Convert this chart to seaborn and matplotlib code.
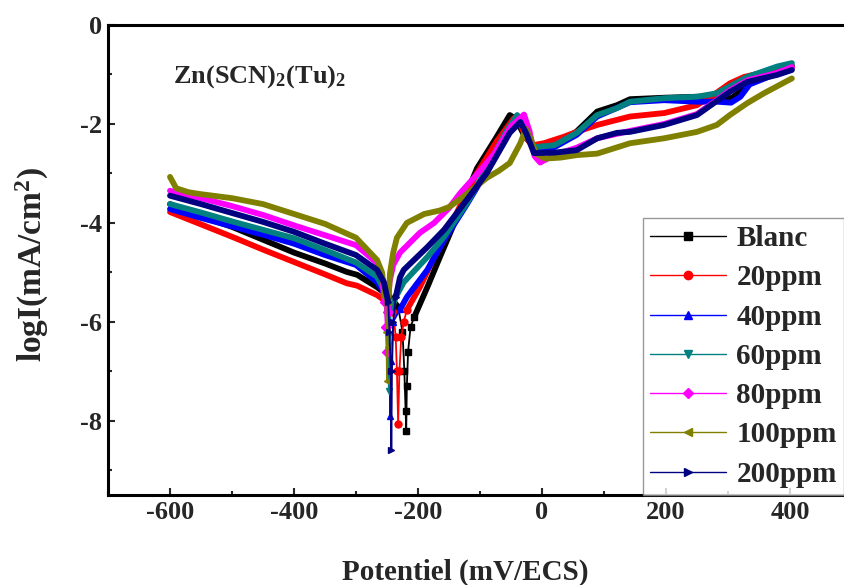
import matplotlib
matplotlib.use("Agg")
import matplotlib.pyplot as plt
from matplotlib.lines import Line2D
from matplotlib.ticker import MultipleLocator
import seaborn as sns
import numpy as np
import pandas as pd

# potential (mV/ECS) and log current density
e_blanc = [-600, -550, -500, -450, -400, -350, -315, -298, -266, -245, -232, -225, -222, -220, -219,
           -218, -216, -212, -206, -185, -165, -148, -128, -105, -75, -52, -42, -30, -13, 20, 56,
           89, 121, 142, 197, 250, 282, 305, 320, 340, 379, 403]
i_blanc = [-3.62, -3.86, -4.08, -4.34, -4.6, -4.82, -4.99, -5.05, -5.3, -5.5, -5.7, -6.2, -7.0, -7.8, -8.2,
           -7.3, -6.6, -6.1, -5.9, -5.3, -4.7, -4.2, -3.6, -2.9, -2.3, -1.82, -1.9, -2.2, -2.47, -2.45, -2.15,
           -1.75, -1.62, -1.5, -1.47, -1.45, -1.45, -1.48, -1.35, -1.1, -0.9, -0.82]

e_20 = [-600, -550, -500, -450, -400, -350, -315, -298, -266, -250, -240, -236, -234, -232, -230,
        -227, -223, -218, -197, -174, -158, -130, -105, -73, -45, -35, -25, -15, 3, 35, 56, 89,
        142, 197, 250, 277, 303, 326, 347, 403]
i_20 = [-3.78, -4.03, -4.28, -4.54, -4.79, -5.04, -5.22, -5.27, -5.46, -5.6, -5.8, -6.3, -7.0, -8.07, -7.0,
        -6.3, -6.0, -5.76, -5.3, -4.69, -4.35, -3.6, -3.0, -2.35, -1.88, -2.0, -2.3, -2.43, -2.39, -2.26,
        -2.16, -2.02, -1.85, -1.78, -1.62, -1.41, -1.18, -1.05, -0.99, -0.85]

e_40 = [-600, -550, -500, -450, -400, -350, -300, -266, -255, -248, -246, -245, -243, -240, -229,
        -218, -185, -158, -121, -89, -60, -38, -28, -18, -10, 20, 56, 89, 142, 197, 250, 282, 305,
        320, 335, 379, 403]
i_40 = [-3.72, -3.9, -4.07, -4.24, -4.42, -4.65, -4.85, -5.2, -5.4, -5.8, -6.6, -7.9, -6.8, -6.0, -5.75,
        -5.5, -4.95, -4.35, -3.62, -2.95, -2.25, -1.88, -2.05, -2.4, -2.5, -2.47, -2.22, -1.85, -1.56,
        -1.52, -1.55, -1.55, -1.57, -1.45, -1.2, -0.98, -0.88]

e_60 = [-600, -550, -500, -450, -400, -350, -300, -266, -255, -250, -248, -247, -246, -244, -236,
        -223, -185, -158, -121, -89, -60, -40, -30, -20, -13, 20, 56, 89, 121, 142, 197, 250, 282,
        331, 379, 403]
i_60 = [-3.62, -3.79, -3.97, -4.14, -4.31, -4.55, -4.8, -5.09, -5.35, -5.7, -6.3, -7.4, -6.5, -5.8, -5.5,
        -5.2, -4.69, -4.28, -3.6, -2.9, -2.2, -1.82, -2.0, -2.35, -2.47, -2.43, -2.18, -1.82, -1.68,
        -1.55, -1.48, -1.45, -1.38, -1.05, -0.84, -0.77]

e_80 = [-600, -550, -500, -450, -400, -350, -300, -266, -258, -254, -252, -250, -249, -246, -240,
        -229, -197, -174, -150, -132, -100, -77, -50, -29, -20, -12, -3, 19, 56, 89, 142, 197, 250,
        277, 303, 331, 379, 403]
i_80 = [-3.35, -3.5, -3.66, -3.84, -4.05, -4.25, -4.45, -4.81, -5.1, -5.6, -6.1, -6.6, -5.8, -5.2, -4.85,
        -4.6, -4.2, -4.0, -3.7, -3.4, -2.95, -2.6, -2.05, -1.81, -2.15, -2.65, -2.78, -2.63, -2.48,
        -2.29, -2.14, -2.0, -1.8, -1.56, -1.32, -1.12, -0.97, -0.85]

e_100 = [-600, -590, -570, -550, -500, -450, -400, -350, -300, -266, -258, -253, -251, -250, -249,
         -248, -245, -240, -234, -218, -190, -165, -150, -130, -105, -89, -70, -52, -35, -26, -18,
         -10, 5, 30, 56, 89, 142, 197, 250, 282, 303, 331, 358, 403]
i_100 = [-3.07, -3.3, -3.38, -3.42, -3.5, -3.62, -3.82, -4.02, -4.3, -4.75, -5.0, -5.5, -6.2, -7.2, -6.5,
         -5.6, -5.0, -4.6, -4.3, -4.0, -3.82, -3.75, -3.68, -3.5, -3.25, -3.09, -2.95, -2.79, -2.39,
         -2.1, -2.3, -2.6, -2.7, -2.68, -2.63, -2.6, -2.39, -2.29, -2.16, -2.02, -1.82, -1.58, -1.38,
         -1.08]

e_200 = [-600, -550, -500, -450, -400, -350, -300, -266, -255, -248, -246, -244, -243, -242, -240,
         -236, -229, -223, -185, -158, -121, -89, -52, -35, -25, -13, 20, 56, 89, 121, 142, 197, 250,
         277, 303, 331, 379, 403]
i_200 = [-3.45, -3.62, -3.8, -3.98, -4.18, -4.42, -4.65, -4.95, -5.2, -5.6, -6.2, -7.0, -8.6, -7.0, -6.0,
         -5.5, -5.1, -4.95, -4.49, -4.14, -3.53, -2.99, -2.18, -1.96, -2.2, -2.59, -2.58, -2.53, -2.29,
         -2.18, -2.16, -2.02, -1.82, -1.58, -1.35, -1.15, -1.01, -0.91]

labels = ["Blanc", "20ppm", "40ppm", "60ppm", "80ppm", "100ppm", "200ppm"]
potentials = [e_blanc, e_20, e_40, e_60, e_80, e_100, e_200]
currents = [i_blanc, i_20, i_40, i_60, i_80, i_100, i_200]
colors = ["#000000", "#ff0000", "#0000ff", "#008080", "#ff00ff", "#808000", "#000080"]
markers = ["s", "o", "^", "v", "D", "<", ">"]

sns.set_theme(style="white")
plt.rcParams["font.family"] = ["Liberation Serif", "DejaVu Serif"]
plt.rcParams["font.weight"] = "bold"
plt.rcParams["axes.unicode_minus"] = False
plt.rcParams["mathtext.fontset"] = "custom"
for k in ("rm", "it", "bf", "sf"):
    plt.rcParams["mathtext." + k] = "Liberation Serif:bold"

CUT = -5.95  # below this the scan near Ecorr is drawn thin with markers

fig = plt.figure(figsize=(8.45, 5.85), dpi=100)
ax = fig.add_axes([108 / 845, 1 - 495 / 585, 744 / 845, 470 / 585])

for e, i, c, m in zip(potentials, currents, colors, markers):
    e = np.asarray(e, float)
    i = np.asarray(i, float)
    low = np.where(i < CUT)[0]
    a, b = low[0], low[-1]
    df = pd.DataFrame({"E": e, "logI": i,
                       "branch": np.where(np.arange(len(e)) < a, "cat", "ano")})
    df = df[df.logI >= CUT]
    sns.lineplot(data=df, x="E", y="logI", units="branch", estimator=None, sort=False,
                 color=c, lw=4.2, ax=ax, legend=False)
    ax.plot(e[a - 1:b + 2], i[a - 1:b + 2], color=c, lw=1.3, marker=m, ms=5)

ax.set_xlim(-700, 500)
ax.set_ylim(-9.5, 0)
ax.xaxis.set_major_locator(MultipleLocator(200))
ax.xaxis.set_minor_locator(MultipleLocator(100))
ax.yaxis.set_major_locator(MultipleLocator(2))
ax.yaxis.set_minor_locator(MultipleLocator(1))
ax.tick_params(which="both", direction="in", top=False, right=False,
               bottom=True, left=True, width=1.5, labelsize=19, pad=4)
ax.tick_params(which="major", length=5)
ax.tick_params(which="minor", length=3)
for lab in ax.get_xticklabels() + ax.get_yticklabels():
    lab.set_fontweight("bold")
for s in ax.spines.values():
    s.set_linewidth(2.2)
    s.set_color("black")

ax.set_xlabel("Potentiel (mV/ECS)", fontsize=21, fontweight="bold", va="top")
ax.xaxis.set_label_coords(0.48, -0.135)
ax.set_ylabel("logI(mA/cm$^2$)", fontsize=24, fontweight="bold")
ax.yaxis.set_label_coords(-0.077, 0.49)

ax.text(-595, -1.05, "Zn(SCN)$_2$(Tu)$_2$", fontsize=19, fontweight="bold",
        ha="left", va="center")

handles = [Line2D([], [], color=c, lw=1, marker=m, ms=6 if m != "D" else 5)
           for c, m in zip(colors, markers)]
leg = ax.legend(handles, labels, loc="lower left", bbox_to_anchor=(0.719, 0.0),
                borderaxespad=0, frameon=True, fancybox=False,
                handlelength=2.6, handletextpad=0.35, labelspacing=0.42, borderpad=0.25,
                prop={"weight": "bold", "size": 21})
leg.get_frame().set_edgecolor("#808080")
leg.get_frame().set_linewidth(1.0)

fig.savefig("out.png", dpi=100)
